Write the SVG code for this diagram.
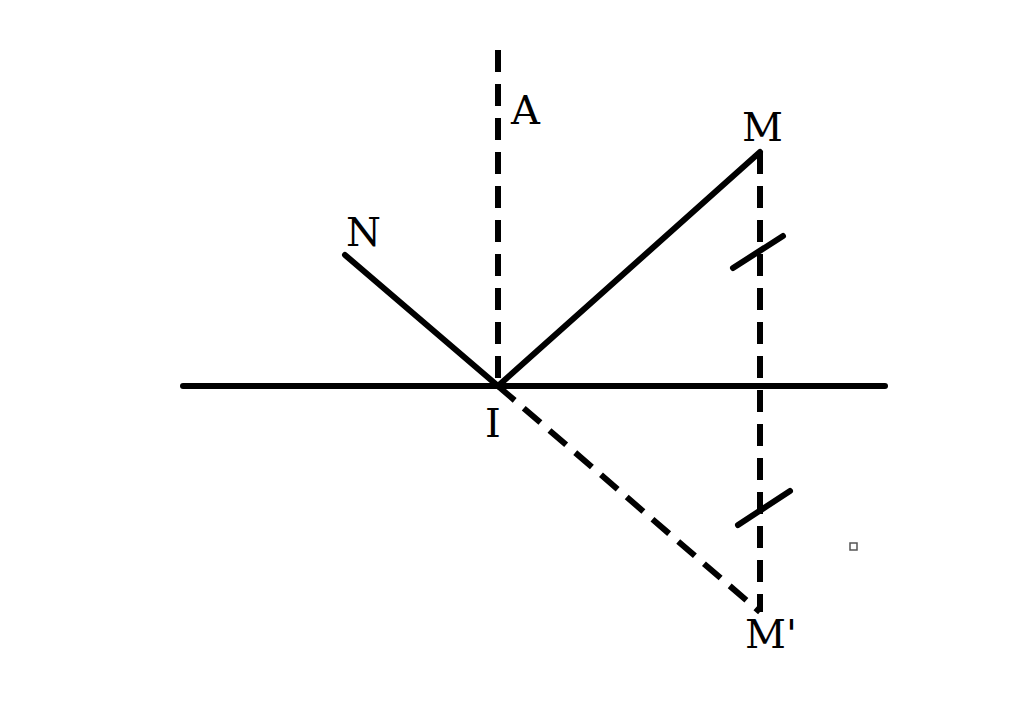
<svg xmlns="http://www.w3.org/2000/svg" width="1024" height="722" viewBox="0 0 1024 722">
<style>
.s{stroke:#000;stroke-width:6;fill:none;stroke-linecap:round}
.d{stroke:#000;stroke-width:6;fill:none;stroke-dasharray:22 12}
text{font-family:"DejaVu Serif","Liberation Serif",serif;font-size:40px;fill:#000}
</style>
<rect width="1024" height="722" fill="#fff"/>
<g id="connectors">
<line class="s" x1="183" y1="386" x2="885" y2="386"/>
<line class="d" x1="498" y1="50" x2="498" y2="386"/>
<line class="s" x1="345" y1="255" x2="498" y2="386"/>
<line class="s" x1="498" y1="386" x2="760" y2="152"/>
<line class="d" x1="760" y1="152" x2="760" y2="612"/>
<line class="d" x1="498" y1="386" x2="760" y2="612"/>
<line class="s" x1="733" y1="268" x2="783" y2="236"/>
<line class="s" x1="738" y1="525" x2="790" y2="491"/>
</g>
<g id="A"><text x="511" y="124">A</text></g>
<g id="N"><text x="346" y="246">N</text></g>
<g id="M"><text x="742" y="141">M</text></g>
<g id="I"><text x="485" y="437">I</text></g>
<g id="Mp"><text x="745" y="648">M'</text></g>
<rect x="850" y="543" width="7" height="7" fill="none" stroke="#555" stroke-width="1.5"/>
</svg>
